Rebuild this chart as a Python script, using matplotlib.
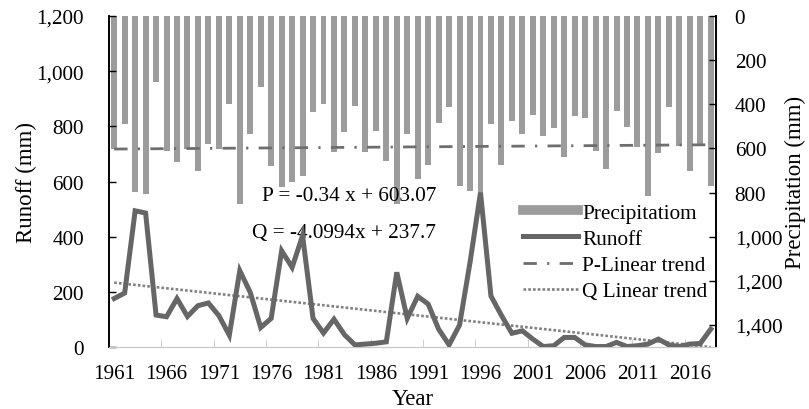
import matplotlib
matplotlib.use("Agg")
import matplotlib.pyplot as plt
from matplotlib.lines import Line2D
import numpy as np

years = list(range(1961, 2019))
precip = [603, 489, 798, 807, 300, 610, 660, 603, 701, 580,
          603, 399, 852, 535, 323, 678, 776, 751, 724, 436,
          399, 618, 527, 409, 616, 520, 658, 852, 535, 739,
          674, 485, 411, 772, 792, 800, 489, 674, 474, 535,
          447, 542, 509, 640, 455, 462, 610, 693, 432, 504,
          594, 814, 621, 414, 589, 701, 588, 772]
runoff = [176, 196, 494, 486, 116, 110, 176, 111, 150, 160,
          114, 43, 277, 198, 71, 104, 349, 289, 404, 104,
          51, 101, 45, 8, 11, 14, 19, 271, 104, 184,
          156, 65, 8, 80, 307, 560, 185, 115, 50, 59,
          29, 2, 5, 35, 35, 8, 2, 2, 17, 2,
          5, 11, 29, 8, 2, 11, 13, 65]
# trend equations as shown on the chart (x = 1..n)
p_slope, p_icept = -0.34, 603.07
q_slope, q_icept = -4.0994, 237.7
tick_years = list(range(1961, 2019, 5))

plt.rcParams['font.family'] = ['Liberation Serif', 'DejaVu Serif']
FS = 15.3
LFS = 16.5
EFS = 15.3
GFS = 15.3

fig = plt.figure(figsize=(8.09, 4.10), dpi=100)
ax = fig.add_axes([0.1347, 0.151, 0.7503, 0.8075])
ax2 = ax.twinx()

x = np.arange(1, len(years) + 1)
bar_c = '#9c9c9c'
line_c = '#666666'
pdash = (4.8, 3.7, 0.8, 3.7)
qdot = (1, 0.8)

ax2.bar(x, precip, width=0.57, color=bar_c, zorder=1)
ax2.plot(x, p_icept + p_slope * x, color='#6e6e6e', lw=2.0,
         dashes=pdash, zorder=3)
ax2.set_ylim(1500, 0)
ax2.set_yticks(range(0, 1401, 200))
ax2.set_yticklabels([f"{v:,}" for v in range(0, 1401, 200)], fontsize=FS)
ax2.set_ylabel('Precipitation (mm)', fontsize=LFS)
ax2.yaxis.set_label_coords(1.114, 0.5)

ax.set_zorder(ax2.get_zorder() + 1)
ax.patch.set_visible(False)
ax.plot(x, runoff, color=line_c, lw=3.6, solid_joinstyle='miter', zorder=4)
ax.plot(x, q_icept + q_slope * x, color='#808080', lw=1.9,
        dashes=qdot, zorder=3)
ax.set_ylim(0, 1200)
ax.set_xlim(0.5, len(years) + 0.5)
ax.set_yticks(range(0, 1201, 200))
ax.set_yticklabels([f"{v:,}" for v in range(0, 1201, 200)], fontsize=FS)
ax.set_ylabel('Runoff (mm)', fontsize=LFS)
ax.yaxis.set_label_coords(-0.119, 0.5)
ax.set_xlabel('Year', fontsize=LFS)
ax.xaxis.set_label_coords(0.5, -0.125)

tpos = [years.index(t) + 1 for t in tick_years]
ax.set_xticks(tpos)
ax.set_xticklabels([str(t) for t in tick_years], fontsize=FS)
ax.set_xticks([p + 4.5 for p in tpos[:-1]], minor=True)
ax.tick_params(axis='x', which='major', length=0, pad=12)
ax.tick_params(axis='x', which='minor', direction='in', length=6, color='#c8c8c8')
ax.tick_params(axis='y', direction='in', length=5, width=1, pad=18)
ax2.tick_params(axis='y', direction='in', length=5, width=1, pad=13.5)

for a in (ax, ax2):
    a.spines['top'].set_visible(False)
    a.spines['bottom'].set_color('#c8c8c8')
    a.spines['left'].set_color('black')
    a.spines['right'].set_color('black')
    a.spines['left'].set_linewidth(1.2)
    a.spines['right'].set_linewidth(1.2)

ax.text(0.539, 0.457, 'P = -0.34 x + 603.07', transform=ax.transAxes,
        fontsize=EFS, va='center', ha='right')
ax.text(0.539, 0.347, 'Q = -4.0994x + 237.7', transform=ax.transAxes,
        fontsize=EFS, va='center', ha='right')

handles = [Line2D([], [], color=bar_c, lw=7),
           Line2D([], [], color=line_c, lw=3.6),
           Line2D([], [], color='#6e6e6e', lw=2.0, dashes=pdash),
           Line2D([], [], color='#808080', lw=1.9, dashes=qdot)]
labels = ['Precipitatiom', 'Runoff', 'P-Linear trend', 'Q Linear trend']
ax.legend(handles, labels, loc='upper left', bbox_to_anchor=(0.682, 0.436),
          frameon=False, fontsize=GFS, handlelength=2.6,
          labelspacing=0.3, handletextpad=0.2, borderaxespad=0, borderpad=0)

fig.savefig('out.png', dpi=100)
